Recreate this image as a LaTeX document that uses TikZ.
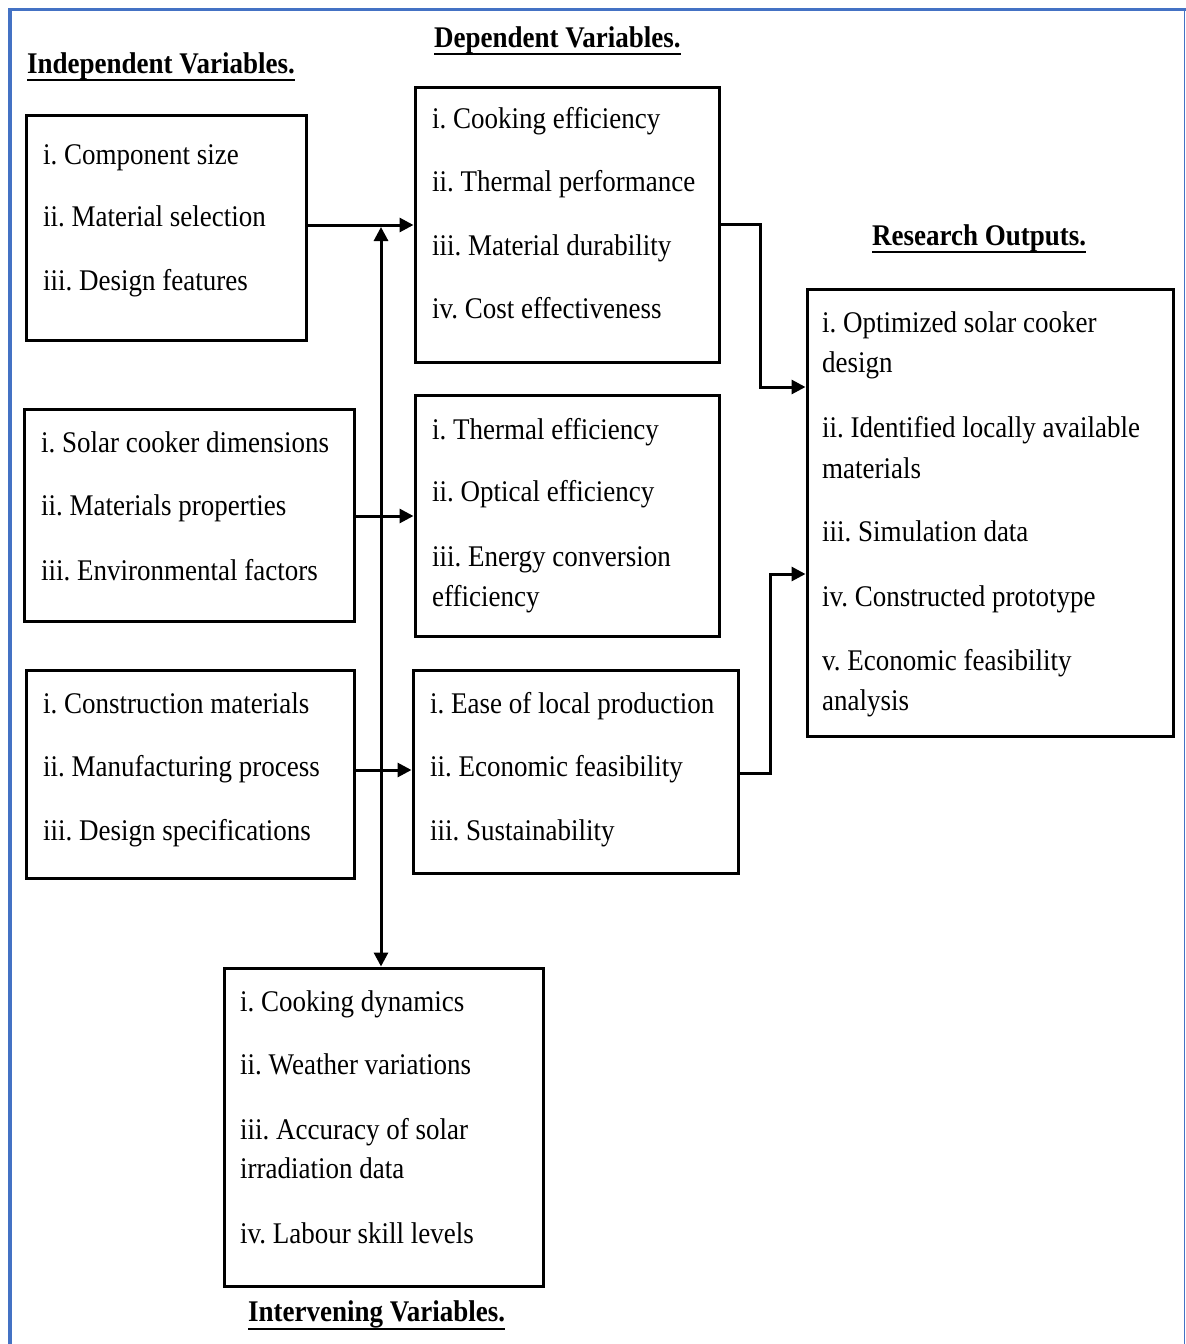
\documentclass[tikz,border=0pt]{standalone}
\usepackage{fontspec}
\setmainfont{Liberation Serif}[FakeStretch=0.9]
\usetikzlibrary{arrows.meta}
\frenchspacing
\definecolor{frameblue}{RGB}{68,114,196}
\tikzset{
  box/.style={draw=black, line width=3pt, rectangle, inner sep=0pt},
  txt/.style={anchor=base west, inner sep=0pt, font=\fontsize{30}{40}\selectfont},
  ttl/.style={anchor=base west, inner sep=0pt, font=\fontsize{30}{40}\selectfont\bfseries},
  uline/.style={line width=2.6pt},
  conn/.style={line width=3pt},
  arr/.style={conn, -{Triangle[length=14pt,width=14pt]}},
  arrboth/.style={conn, {Triangle[length=14pt,width=14pt]}-{Triangle[length=14pt,width=14pt]}}
}
\newcommand{\mkbox}[5]{% name, x1, y1, x2, y2
  \node[box, anchor=north west, minimum width={(#4-#2-1)*1pt}, minimum height={(#5-#3-1)*1pt}] (#1) at (#2+0.5,#3+0.5) {};}
\begin{document}
\begin{tikzpicture}[x=1pt, y=-1pt]
\useasboundingbox (0,0) rectangle (1186,1344);
\fill[white] (0,0) rectangle (1186,1344);
% blue frame
\draw[frameblue, line width=4pt] (10,1344) -- (10,9.5);
\draw[frameblue, line width=3pt] (8,9.5) -- (1186,9.5);
\draw[frameblue, line width=1.6pt] (1184.5,9.5) -- (1184.5,1344);

% titles
\node[ttl] (tI) at (27,73) {Independent Variables.};
\node[ttl] (tD) at (434,47) {Dependent Variables.};
\node[ttl] (tR) at (872,245) {Research Outputs.};
\node[ttl] (tV) at (248,1321) {Intervening Variables.};
\foreach \t in {tI,tD,tR} {\draw[uline] ([yshift=-7pt]\t.base west) -- ([yshift=-7pt]\t.base east);}
\draw[uline] ([yshift=-8pt]tV.base west) -- ([yshift=-8pt]tV.base east);

% boxes
\mkbox{A}{24}{113}{305}{339}
\mkbox{B}{22}{407}{353}{620}
\mkbox{C}{24}{668}{353}{877}
\mkbox{D}{413}{85}{718}{361}
\mkbox{E}{413}{393}{718}{635}
\mkbox{F}{411}{668}{737}{872}
\mkbox{G}{805}{287}{1172}{735}
\mkbox{H}{222}{966}{542}{1285}

% box texts
\node[txt] (a1) at (43,164) {i. Component size};
\node[txt] (a2) at (43,226) {ii. Material selection};
\node[txt] (a3) at (43,290) {iii. Design features};

\node[txt] (b1) at (41,452) {i. Solar cooker dimensions};
\node[txt] (b2) at (41,515) {ii. Materials properties};
\node[txt] (b3) at (41,580) {iii. Environmental factors};

\node[txt] (c1) at (43,713) {i. Construction materials};
\node[txt] (c2) at (43,776) {ii. Manufacturing process};
\node[txt] (c3) at (43,840) {iii. Design specifications};

\node[txt] (d1) at (432,128) {i. Cooking efficiency};
\node[txt] (d2) at (432,191) {ii. Thermal performance};
\node[txt] (d3) at (432,255) {iii. Material durability};
\node[txt] (d4) at (432,318) {iv. Cost effectiveness};

\node[txt] (e1) at (432,439) {i. Thermal efficiency};
\node[txt] (e2) at (432,501) {ii. Optical efficiency};
\node[txt] (e3) at (432,566) {iii. Energy conversion};
\node[txt] (e4) at (432,606) {efficiency};

\node[txt] (f1) at (430,713) {i. Ease of local production};
\node[txt] (f2) at (430,776) {ii. Economic feasibility};
\node[txt] (f3) at (430,840) {iii. Sustainability};

\node[txt] (g1) at (822,332) {i. Optimized solar cooker};
\node[txt] (g2) at (822,372) {design};
\node[txt] (g3) at (822,437) {ii. Identified locally available};
\node[txt] (g4) at (822,478) {materials};
\node[txt] (g5) at (822,541) {iii. Simulation data};
\node[txt] (g6) at (822,606) {iv. Constructed prototype};
\node[txt] (g7) at (822,670) {v. Economic feasibility};
\node[txt] (g8) at (822,710) {analysis};

\node[txt] (h1) at (240,1011) {i. Cooking dynamics};
\node[txt] (h2) at (240,1074) {ii. Weather variations};
\node[txt] (h3) at (240,1139) {iii. Accuracy of solar};
\node[txt] (h4) at (240,1178) {irradiation data};
\node[txt] (h5) at (240,1243) {iv. Labour skill levels};

% connectors
\coordinate (j) at (381,227);
\coordinate (dturn) at (760,224);
\coordinate (din) at (805,387);
\coordinate (fturn) at (770,773);
\coordinate (fin) at (805,574);
\draw[arr] (A.east |- 0,225) -- (D.west |- 0,225);
\draw[arrboth] (j) -- (H.north -| j);
\draw[arr] (B.east |- 0,516) -- (E.west |- 0,516);
\draw[arr] (C.east |- 0,770) -- (F.west |- 0,770);
\draw[arr] (D.east |- dturn) -- (dturn) |- (G.west |- din);
\draw[arr] (F.east |- fturn) -- (fturn) |- (G.west |- fin);
\end{tikzpicture}
\end{document}
